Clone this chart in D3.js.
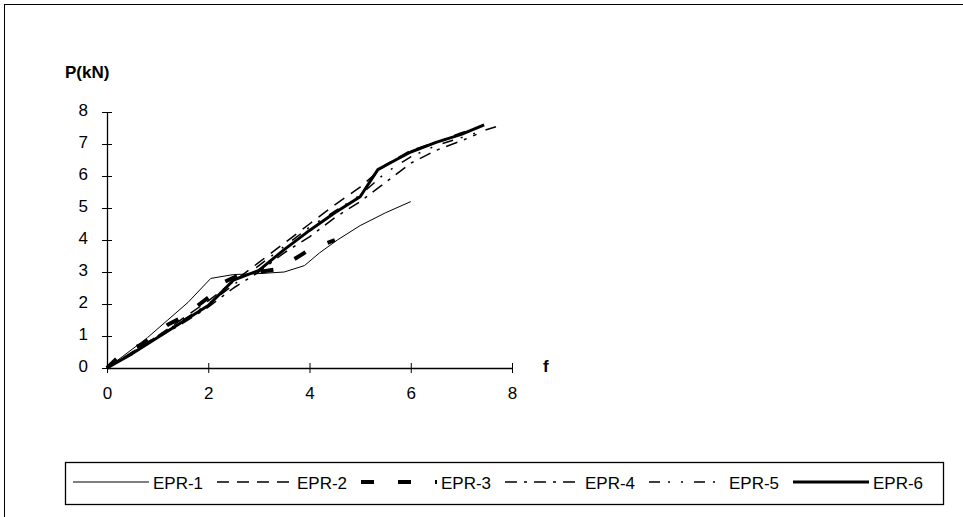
<!DOCTYPE html>
<html>
<head>
<meta charset="utf-8">
<script src="https://cdn.jsdelivr.net/npm/d3@7"></script>
<style>
    body { margin: 0; background: #fff; }
    svg { display: block; font-family: "Liberation Sans", Arial, sans-serif; }
</style>
</head>
<body>
<div id="chart"></div>
<script>
// Load-deflection curves, f vs P(kN)
const seriesNames = ["EPR-1", "EPR-2", "EPR-3", "EPR-4", "EPR-5", "EPR-6"];

const epr1 = [[0, 0], [0.3, 0.35], [0.8, 0.95], [1.2, 1.5], [1.6, 2.05], [2.05, 2.8], [2.5, 2.92],
    [3.0, 2.95], [3.5, 3.0], [3.9, 3.2], [4.2, 3.6], [4.55, 4.0], [5.0, 4.45], [5.5, 4.85], [6.0, 5.2]];
const epr2 = [[0, 0], [0.5, 0.5], [1, 1.0], [1.5, 1.55], [2, 2.1], [2.5, 2.7], [3, 3.3], [3.5, 3.9],
    [4, 4.5], [4.5, 5.1], [5, 5.65], [5.5, 6.35], [6, 6.8], [6.5, 7.05], [7, 7.35], [7.3, 7.5]];
const epr3 = [[0, 0], [0.3, 0.45], [0.7, 0.75], [1.2, 1.35], [1.5, 1.6], [2.0, 2.2], [2.2, 2.6],
    [2.6, 2.9], [3.0, 3.0], [3.4, 3.1], [3.6, 3.3], [4.0, 3.7], [4.5, 4.0]];
const epr4 = [[0, 0], [0.5, 0.45], [1, 0.95], [1.5, 1.4], [2, 1.9], [2.5, 2.5], [3, 3.0], [3.5, 3.6],
    [4, 4.1], [4.5, 4.7], [5, 5.2], [5.5, 5.8], [6, 6.4], [6.5, 6.8], [7, 7.1], [7.3, 7.3]];
const epr5 = [[0, 0], [0.5, 0.5], [1, 1.0], [1.5, 1.5], [2, 2.0], [2.5, 2.6], [3, 3.2], [3.5, 3.8],
    [4, 4.4], [4.5, 4.9], [5, 5.4], [5.5, 6.1], [6, 6.6], [6.5, 6.95], [7, 7.2], [7.7, 7.55]];
const epr6 = [[0, 0], [0.5, 0.45], [1, 0.95], [1.5, 1.45], [2, 1.95], [2.5, 2.75], [3, 3.05], [3.5, 3.7],
    [4, 4.3], [4.5, 4.85], [5, 5.35], [5.35, 6.2], [5.7, 6.5], [6, 6.75], [6.5, 7.05], [7, 7.3], [7.45, 7.6]];

const seriesValues = [epr1, epr2, epr3, epr4, epr5, epr6];

const xTicks = [0, 2, 4, 6, 8];
const yTicks = [0, 1, 2, 3, 4, 5, 6, 7, 8];

// line styles (Excel-like)
const styles = [
    { width: 1, dash: null },
    { width: 1.5, dash: "12,8" },
    { width: 4, dash: "13,24" },
    { width: 1.5, dash: "12,7,3,7" },
    { width: 1.5, dash: "11,8,2,11,2,11" },
    { width: 3, dash: null }
];

const W = 963, H = 517;
const svg = d3.select("#chart").append("svg")
    .attr("width", W)
    .attr("height", H);

// outer frame (right/bottom edges run off the picture)
svg.append("rect")
    .attr("x", 4.5).attr("y", 4.5)
    .attr("width", W + 10).attr("height", H + 10)
    .attr("fill", "none")
    .attr("stroke", "#000")
    .attr("stroke-width", 1);

const xScale = d3.scaleLinear().domain([0, 8]).range([107, 512]);
const yScale = d3.scaleLinear().domain([0, 8]).range([368, 112]);

// x axis
const xAxis = svg.append("g")
    .attr("transform", `translate(0,${yScale(0)})`)
    .call(d3.axisBottom(xScale).tickValues(xTicks).tickSizeInner(5).tickSizeOuter(0).tickPadding(14));
xAxis.selectAll(".tick line").attr("y1", -5);
xAxis.selectAll("text").style("font-size", "17px").attr("fill", "#000");
xAxis.select(".domain").attr("stroke-width", 1.3);

// y axis
const yAxis = svg.append("g")
    .attr("transform", `translate(${xScale(0)},0)`)
    .call(d3.axisLeft(yScale).tickValues(yTicks).tickSizeInner(5).tickSizeOuter(0).tickPadding(14));
yAxis.selectAll(".tick line").attr("x1", 5);
yAxis.selectAll("text").style("font-size", "17px").attr("fill", "#000").attr("dy", "0.2em");
yAxis.select(".domain").attr("stroke-width", 1.3);

// axis titles
svg.append("text")
    .attr("x", 65).attr("y", 78)
    .style("font-size", "17px").style("font-weight", "bold")
    .text("P(kN)");

svg.append("text")
    .attr("x", 543).attr("y", 372)
    .style("font-size", "17px").style("font-weight", "bold")
    .text("f");

// curves
const line = d3.line()
    .x(d => xScale(d[0]))
    .y(d => yScale(d[1]));

seriesValues.forEach((vals, i) => {
    svg.append("path")
        .datum(vals)
        .attr("fill", "none")
        .attr("stroke", "#000")
        .attr("stroke-width", styles[i].width)
        .attr("stroke-dasharray", styles[i].dash)
        .attr("stroke-linejoin", "round")
        .attr("d", line);
});

// legend
const legend = svg.append("g");
legend.append("rect")
    .attr("x", 65.5).attr("y", 462.5)
    .attr("width", 878).attr("height", 42)
    .attr("fill", "#fff")
    .attr("stroke", "#000")
    .attr("stroke-width", 1.3);

seriesNames.forEach((name, i) => {
    const tx = 153 + i * 144;
    legend.append("line")
        .attr("x1", tx - 80).attr("x2", tx - 4)
        .attr("y1", 482).attr("y2", 482)
        .attr("stroke", "#000")
        .attr("stroke-width", styles[i].width)
        .attr("stroke-dasharray", styles[i].dash);
    legend.append("text")
        .attr("x", tx).attr("y", 489)
        .style("font-size", "17px")
        .text(name);
});
</script>
</body>
</html>
